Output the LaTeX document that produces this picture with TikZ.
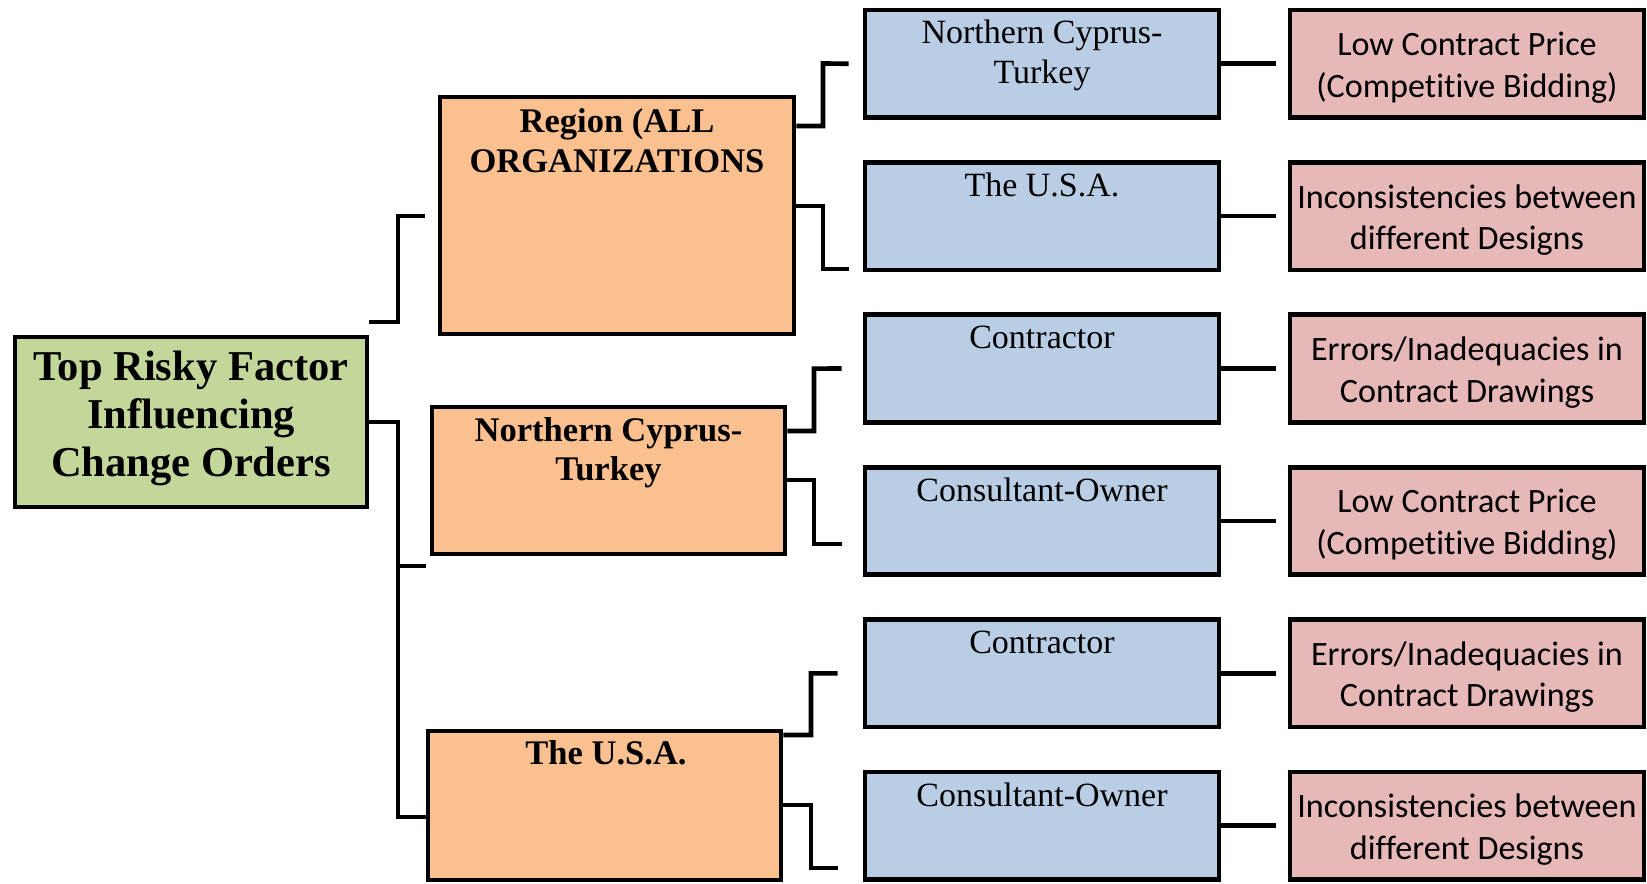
\documentclass[tikz,border=0pt]{standalone}
\usepackage{fontspec}
\setmainfont{Liberation Serif}
\newfontfamily\calibrifont{Carlito}[Ligatures=NoCommon]
\usetikzlibrary{fit,calc}

\definecolor{rootgreen}{RGB}{196,215,155}
\definecolor{regionorange}{RGB}{250,192,144}
\definecolor{groupblue}{RGB}{185,205,229}
\definecolor{factorpink}{RGB}{230,185,184}

\begin{document}
\begin{tikzpicture}[x=0.75pt,y=-0.75pt,
  box/.style={draw=black, line width=3.5pt, inner sep=0pt},
  link/.style={draw=black, line width=3.5pt, line join=miter},
  % multi-line texts are placed by the baseline of their last line
  roottxt/.style={inner sep=0pt, align=center, anchor=base,
    font=\fontsize{31.9pt}{36pt}\selectfont\bfseries},
  orangetxt/.style={inner sep=0pt, align=center, anchor=base,
    font=\fontsize{25.9pt}{29pt}\selectfont\bfseries},
  bluetxt/.style={inner sep=0pt, align=center, anchor=base,
    font=\fontsize{25.5pt}{29.5pt}\selectfont},
  pinktxt/.style={inner sep=0pt, align=center, anchor=base,
    font=\calibrifont\fontsize{25.6pt}{31.1pt}\selectfont}]

\path[use as bounding box] (0,0) rectangle (1647,883);

% root and second-level boxes
\node[box, fill=rootgreen, fit={(15,337) (367,507)}] (root) {};
\node[roottxt] (roottext) at (191,476) {Top Risky Factor\\Influencing\\Change Orders};

\node[box, fill=regionorange, fit={(440,97) (794,334)}] (reg) {};
\node[orangetxt, font=\fontsize{25.9pt}{30pt}\selectfont\bfseries] (regtext) at (617,172.5) {Region (ALL\\ORGANIZATIONS};

\node[box, fill=regionorange, fit={(432,407) (785,554)}] (nc) {};
\node[orangetxt] (nctext) at (608.5,480) {Northern Cyprus-\\Turkey};

\node[box, fill=regionorange, fit={(428,731) (781,880)}] (usa) {};
\node[orangetxt] (usatext) at (606,764) {The U.S.A.};

% third and fourth columns
\foreach \i/\boff/\btext/\ptext in {
  1/73/{Northern Cyprus-\\Turkey}/{Low Contract Price\\(Competitive Bidding)},
  2/34/{The U.S.A.}/{Inconsistencies between\\different Designs},
  3/34/{Contractor}/{Errors/Inadequacies in\\Contract Drawings},
  4/34/{Consultant-Owner}/{Low Contract Price\\(Competitive Bidding)},
  5/34/{Contractor}/{Errors/Inadequacies in\\Contract Drawings},
  6/34/{Consultant-Owner}/{Inconsistencies between\\different Designs}}{
  \pgfmathsetmacro\rowtop{10+152.4*(\i-1)}
  \pgfmathsetmacro\rowbot{\rowtop+107.5}
  \node[box, fill=groupblue, fit={(865,\rowtop) (1219,\rowbot)}] (b\i) {};
  \node[box, fill=factorpink, fit={(1290,\rowtop) (1644,\rowbot)}] (p\i) {};
  \node[bluetxt] (bt\i) at (1042,\rowtop+\boff) {\btext};
  \node[pinktxt] (pt\i) at (1467,\rowtop+87.25) {\ptext};
  \draw[link] (b\i.east) -- ($(p\i.west)+(-12,0)$);
}

% root to second level
\draw[link] (root.east |- 0,322) -| (398,216) -- ($(reg.west |- 0,216)+(-13,0)$);
\draw[link] (root.east |- 0,422) -| (398,817) -- (usa.west |- 0,817);
\draw[link] (398,566) -- (usa.west |- 0,566);

% second level to third column
\draw[link] (reg.east |- 0,126) -| (823,63.5) -- ($(b1.west)+(-14,0)$);
\draw[link] (reg.east |- 0,206) -| (823,269) -- ($(b2.west |- 0,269)+(-14,0)$);
\draw[link] (nc.east |- 0,431) -| (814,368.6) -- ($(b3.west)+(-21,0)$);
\draw[link] (nc.east |- 0,480) -| (814,544) -- ($(b4.west |- 0,544)+(-21,0)$);
\draw[link] (usa.east |- 0,735) -| (811,673.4) -- ($(b5.west)+(-25,0)$);
\draw[link] (usa.east |- 0,805) -| (811,868) -- ($(b6.west |- 0,868)+(-25,0)$);

\end{tikzpicture}
\end{document}
